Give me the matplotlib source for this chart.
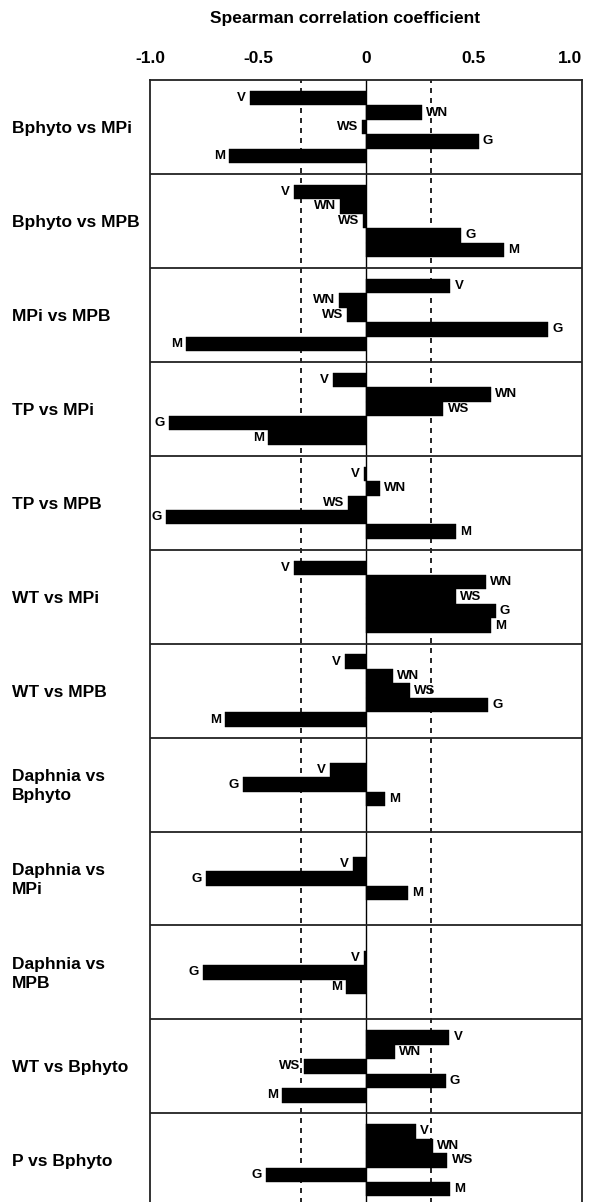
import matplotlib
matplotlib.use("Agg")
import matplotlib.pyplot as plt
import matplotlib.transforms as mtransforms

plt.rcParams['font.family'] = ['Liberation Sans', 'DejaVu Sans']
plt.rcParams['font.weight'] = 'bold'

# ---- data ----
comparisons = ["Bphyto vs MPi", "Bphyto vs MPB", "MPi vs MPB", "TP vs MPi", "TP vs MPB",
               "WT vs MPi", "WT vs MPB", "Daphnia vs\nBphyto", "Daphnia vs\nMPi",
               "Daphnia vs\nMPB", "WT vs Bphyto", "P vs Bphyto"]
series_names = ["V", "WN", "WS", "G", "M"]
V_vals = [-0.535, -0.335, 0.390, -0.154, -0.008, -0.333, -0.097, -0.165, -0.060, -0.008, 0.386, 0.231]
WN_vals = [0.259, -0.119, -0.123, 0.580, 0.063, 0.554, 0.123, None, None, None, 0.133, 0.310]
WS_vals = [-0.017, -0.014, -0.086, 0.358, -0.083, 0.418, 0.205, None, None, None, -0.287, 0.377]
G_vals = [0.522, 0.441, 0.844, -0.914, -0.924, 0.600, 0.565, -0.569, -0.741, -0.755, 0.369, -0.465]
M_vals = [-0.633, 0.640, -0.833, -0.454, 0.418, 0.580, -0.653, 0.090, 0.193, -0.091, -0.389, 0.390]
tick_values = [-1.0, -0.5, 0.0, 0.5, 1.0]
tick_labels = ["-1.0", "-0.5", "0", "0.5", "1.0"]
threshold = 0.3

series = [V_vals, WN_vals, WS_vals, G_vals, M_vals]

W, H = 592, 1202
fig = plt.figure(figsize=(W / 100, H / 100), dpi=100)

panel_h = 6.5
pad = 0.75
n_panels = len(comparisons)
total = n_panels * panel_h

ax_left, ax_right = 150, 582
ax_top, ax_bottom = 80, 1207.3
ax = fig.add_axes([ax_left / W, (H - ax_bottom) / H, (ax_right - ax_left) / W, (ax_bottom - ax_top) / H])
ax.set_xlim(-1, 1)
ax.set_ylim(total, 0)

for i in range(n_panels):
    present = [(name, s[i]) for name, s in zip(series_names, series) if s[i] is not None]
    offset = (len(series_names) - len(present)) / 2
    for j, (name, v) in enumerate(present):
        yc = i * panel_h + pad + offset + j + 0.5
        ax.barh(yc, v, height=1.0, color='black', edgecolor='black', linewidth=0.3, zorder=3)
        if v < 0:
            ax.annotate(name, (v, yc), xytext=(-3, 0), textcoords='offset points',
                        ha='right', va='center', fontsize=9.5, fontweight='bold', zorder=4)
        else:
            ax.annotate(name, (v, yc), xytext=(3, 0), textcoords='offset points',
                        ha='left', va='center', fontsize=9.5, fontweight='bold', zorder=4)
    if i > 0:
        ax.axhline(i * panel_h, color='#222222', lw=1.3, zorder=5)

ax.axvline(0, color='black', lw=1.0, zorder=2)
for t in (-threshold, threshold):
    ax.axvline(t, color='black', lw=1.2, ls=(0, (3, 3)), zorder=2)

for sp in ax.spines.values():
    sp.set_linewidth(1.3)
    sp.set_color('#222222')

ax.set_yticks([])
ax.xaxis.tick_top()
ax.set_xticks(tick_values)
ax.set_xticklabels(tick_labels, fontsize=12.5, fontweight='bold')
ax.tick_params(axis='x', length=0, pad=10)
lbls = ax.get_xticklabels()
lbls[-1].set_ha('right')
lbls[-1].set_x(1.0)

trans = mtransforms.blended_transform_factory(fig.transFigure, ax.transData)
for i, name in enumerate(comparisons):
    ax.text(12 / W, i * panel_h + panel_h / 2 + 0.1, name, transform=trans, ha='left', va='center',
            fontsize=12.5, fontweight='bold', linespacing=1.35, clip_on=False)

fig.text(345.5 / W, 1 - 19 / H, "Spearman correlation coefficient", ha='center', va='center',
         fontsize=12.5, fontweight='bold')

fig.savefig("out.png", dpi=100)
